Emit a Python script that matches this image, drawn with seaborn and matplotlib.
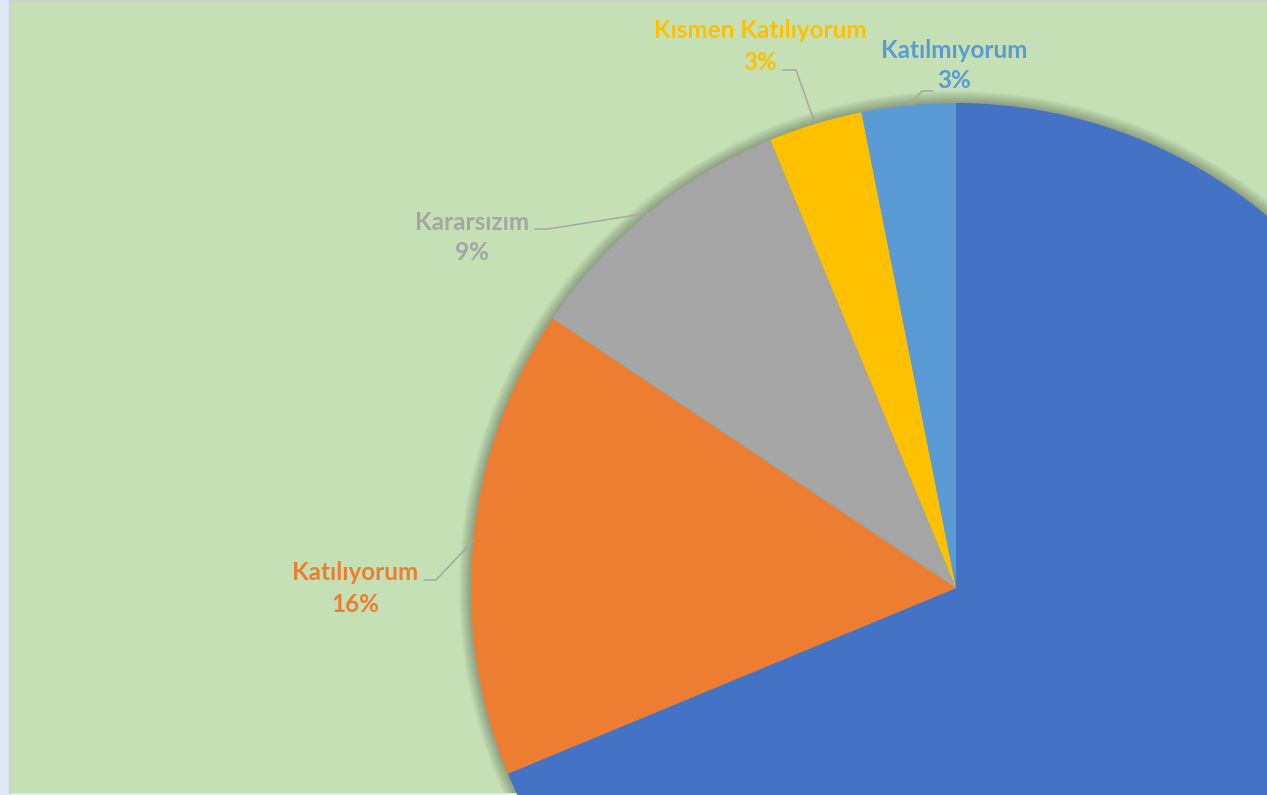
import matplotlib
matplotlib.use("Agg")
import matplotlib.pyplot as plt
from matplotlib.patches import Circle
import seaborn as sns
import numpy as np

# survey answers (counts), Excel pie order: clockwise from 12 o'clock
categories = ["Kesinlikle Katılıyorum", "Katılıyorum", "Kararsızım", "Kısmen Katılıyorum", "Katılmıyorum"]
counts = [44, 10, 6, 2, 2]
colors = ["#4472C4", "#ED7D31", "#A5A5A5", "#FFC000", "#5B9BD5"]

sns.set_theme(style="white")
plt.rcParams['font.family'] = ['Lato', 'DejaVu Sans']

W, H = 1267, 795
fig = plt.figure(figsize=(W / 100, H / 100), dpi=100, facecolor="#DEE9F5")
ax = fig.add_axes([10 / W, 2 / H, (W - 10) / W, (H - 2) / H])

# the pie is bigger than the chart area, so work in pixel-like units
cx, cy, R = 956, H - 588, 485

# soft outer shadow
for k in range(1, 13):
    ax.add_patch(Circle((cx, cy), R + k, color="black", alpha=0.022, lw=0, zorder=0.5))

wedges, _ = ax.pie(counts, colors=colors, startangle=90, counterclock=False,
                   radius=R, center=(cx, cy), frame=False,
                   wedgeprops=dict(linewidth=0))

ax.set_frame_on(True)
ax.set_facecolor("#C5E0B4")
ax.set_xlim(10, W)
ax.set_ylim(2, H)
ax.set_aspect("auto")
ax.set_xticks([])
ax.set_yticks([])
for side in ["right", "bottom"]:
    ax.spines[side].set_visible(False)
for side in ["top", "left"]:
    ax.spines[side].set_color("#D0D0D0")
    ax.spines[side].set_linewidth(1.6)

total = sum(counts)
# label layout (pixels from top-left): name centre, line start, elbow
label_pos = {
    1: ((355, 573), (424, 580), (436, 580)),
    2: ((472, 222), (535, 229), (548, 229)),
    3: ((760, 31), (783, 70), (796, 70)),
    4: ((954, 50), (933, 91), (922, 91)),
}

for i, ((lx, ly), (sx, sy), (ex, ey)) in label_pos.items():
    pct = f"{round(100 * counts[i] / total)}%"
    ax.text(lx, H - ly, categories[i], color=colors[i], fontsize=17.5, fontweight="bold",
            ha="center", va="center")
    ax.text(lx, H - ly - 31, pct, color=colors[i], fontsize=17.5, fontweight="bold",
            ha="center", va="center")
    w = wedges[i]
    mid = np.deg2rad((w.theta1 + w.theta2) / 2)
    px, py = cx + R * np.cos(mid), cy + R * np.sin(mid)
    ax.plot([sx, ex, px], [H - sy, H - ey, py], color="#A6A6A6", lw=1.1, zorder=3)

fig.savefig("out.png", dpi=100, facecolor=fig.get_facecolor())
